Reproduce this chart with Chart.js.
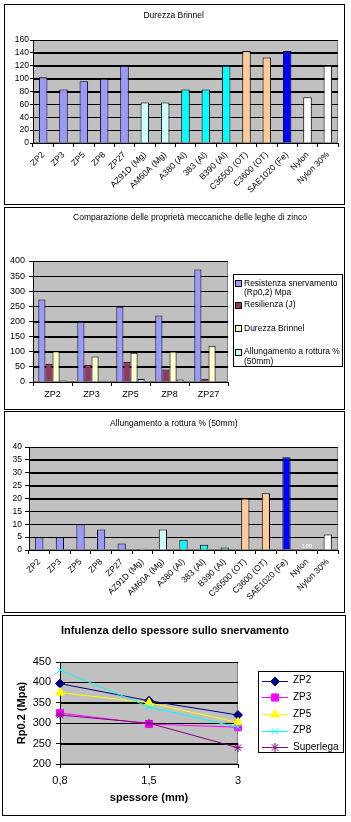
<!DOCTYPE html>
<html><head><meta charset="utf-8">
<script src="https://cdn.jsdelivr.net/npm/chart.js@4.4.0/dist/chart.umd.min.js"></script>
<style>
html,body{margin:0;padding:0;background:#fff;}
body{width:351px;height:822px;position:relative;overflow:hidden;}
.panel{position:absolute;box-sizing:border-box;border:1px solid #000;background:#fff;}
.panel canvas{display:block;}
</style></head><body>
<div class="panel" style="left:4px;top:4px;width:341px;height:201px"><canvas id="c1" width="339" height="199" style="width:339px;height:199px"></canvas></div>
<div class="panel" style="left:4px;top:207px;width:341px;height:203px"><canvas id="c2" width="339" height="201" style="width:339px;height:201px"></canvas></div>
<div class="panel" style="left:4px;top:411px;width:341px;height:202px"><canvas id="c3" width="339" height="200" style="width:339px;height:200px"></canvas></div>
<div class="panel" style="left:2px;top:615px;width:344px;height:201px"><canvas id="c4" width="342" height="199" style="width:342px;height:199px"></canvas></div>
<script>
// ---------- DATA ----------
const materials = ['ZP2','ZP3','ZP5','ZP8','ZP27','AZ91D (Mg)','AM60A (Mg)','A380 (Al)','383 (Al)','B390 (Al)','C36500 (OT)','C3600 (OT)','SAE1020 (Fe)','Nylon','Nylon 30%'];
const durezzaBrinnel = [102,83,96,100,120,63,63,83,83,120,143,133,143,71,120];
const allungamento = [5,5,10,8,2.5,0.5,8,4,2,1,20,22,36,null,6];
const allungamentoNotes = [null,null,null,null,null,null,null,null,null,null,null,null,null,'100',null];

const zincAlloys = ['ZP2','ZP3','ZP5','ZP8','ZP27'];
const resistenzaSnervamento = [273,199,249,220,372];
const resilienza = [60,57,67,41,11];
const durezzaZinco = [102,84,97,101,120];
const allungamentoZinco = [5,4,10,8,null];
const legendLabelsZinco = [['Resistenza snervamento','(Rp0,2) Mpa'],['Resilienza (J)'],['Durezza Brinnel'],['Allungamento a rottura %','(50mm)']];

const spessori = ['0,8','1,5','3'];
const rpZP2 = [397,355,320];
const rpZP3 = [325,298,290];
const rpZP5 = [375,350,302];
const rpZP8 = [430,340,290];
const rpSuperlega = [320,300,240];

const titles = ['Durezza Brinnel','Comparazione delle proprietà meccaniche delle leghe di zinco','Allungamento a rottura % (50mm)','Infulenza dello spessore sullo snervamento'];

// ---------- STYLE ----------
const materialColors = ['#9999FF','#9999FF','#9999FF','#9999FF','#9999FF','#CCFFFF','#CCFFFF','#00FFFF','#00FFFF','#00FFFF','#FFCC99','#FFCC99','#0000FF','#FFFFFF','#FFFFFF'];
const FONT = "'Liberation Sans', Arial, sans-serif";
Chart.defaults.font.family = FONT;
Chart.defaults.color = '#000';
Chart.defaults.animation = false;
Chart.defaults.responsive = false;
Chart.defaults.devicePixelRatio = 1;
Chart.defaults.plugins.legend.display = false;
Chart.defaults.plugins.tooltip.enabled = false;

const decorCfg = {
  c1:{title:{x:168.7,y:11,font:'8.5px '+FONT}},
  c2:{title:{x:185,y:9.5,font:'8.5px '+FONT},
      legend:{type:'box',box:[228,66,338,159],font:'8.5px '+FONT,ys:[75.3,97,120.3,143.7],lh:9.5,swX:230,sw:6,textX:239}},
  c3:{title:{x:168.8,y:11.3,font:'8.5px '+FONT},notes:allungamentoNotes},
  c4:{title:{x:172,y:15,font:'bold 11px '+FONT},
      legend:{type:'line',box:[255,55,341,137],font:'10px '+FONT,y0:64.7,step:16.6,lx0:259,lx1:285,textX:290}}
};

const decor = {
  id:'decor',
  beforeDraw(chart){
    const a = chart.chartArea, ctx = chart.ctx;
    ctx.save();
    ctx.fillStyle = '#C0C0C0';
    ctx.fillRect(a.left, a.top, a.right-a.left, a.bottom-a.top);
    ctx.strokeStyle = '#808080'; ctx.lineWidth = 1;
    ctx.strokeRect(Math.round(a.left)+0.5, Math.round(a.top)+0.5, Math.round(a.right-a.left)-1, Math.round(a.bottom-a.top)-1);
    ctx.restore();
  },
  beforeDatasetsDraw(chart){
    const a = chart.chartArea, ctx = chart.ctx, ys = chart.scales.y;
    ctx.save();
    ctx.strokeStyle = '#000'; ctx.lineWidth = 1;
    ys.ticks.forEach(t=>{
      const y = Math.round(ys.getPixelForValue(t.value)) + 0.5;
      ctx.beginPath(); ctx.moveTo(a.left, y); ctx.lineTo(a.right, y); ctx.stroke();
    });
    ctx.restore();
  },
  afterDraw(chart){
    const cfg = decorCfg[chart.canvas.id]; if(!cfg) return;
    const ctx = chart.ctx;
    ctx.save();
    ctx.fillStyle = '#000';
    ctx.textAlign = 'center'; ctx.textBaseline = 'middle';
    ctx.font = cfg.title.font;
    ctx.fillText(titles[['c1','c2','c3','c4'].indexOf(chart.canvas.id)], cfg.title.x, cfg.title.y);
    if (cfg.notes){
      const xs = chart.scales.x, ys = chart.scales.y;
      ctx.font = '6px '+FONT; ctx.fillStyle = '#FFFFFF';
      cfg.notes.forEach((n,i)=>{ if(n) ctx.fillText(n, xs.getPixelForValue(i), ys.getPixelForValue(1.3)); });
    }
    const L = cfg.legend;
    if (L){
      const b = L.box;
      ctx.fillStyle = '#FFFFFF';
      ctx.fillRect(b[0],b[1],b[2]-b[0],b[3]-b[1]);
      ctx.strokeStyle = '#000'; ctx.lineWidth = 1;
      ctx.strokeRect(b[0]+0.5,b[1]+0.5,b[2]-b[0]-1,b[3]-b[1]-1);
      ctx.font = L.font; ctx.textAlign = 'left'; ctx.textBaseline = 'middle';
      chart.data.datasets.forEach((ds,i)=>{
        if (L.type==='box'){
          const y = L.ys[i];
          ctx.fillStyle = ds.backgroundColor;
          ctx.fillRect(L.swX+0.5, Math.round(y-L.sw/2)+0.5, L.sw, L.sw);
          ctx.strokeStyle = '#000';
          ctx.strokeRect(L.swX+0.5, Math.round(y-L.sw/2)+0.5, L.sw, L.sw);
          ctx.fillStyle = '#000';
          legendLabelsZinco[i].forEach((t,k)=>ctx.fillText(t, L.textX, y + k*L.lh));
        } else {
          const y = L.y0 + i*L.step;
          ctx.strokeStyle = ds.borderColor; ctx.lineWidth = 1;
          ctx.beginPath(); ctx.moveTo(L.lx0, Math.round(y)+0.5); ctx.lineTo(L.lx1, Math.round(y)+0.5); ctx.stroke();
          ctx.fillStyle = ds.backgroundColor; ctx.strokeStyle = ds.borderColor;
          Chart.helpers.drawPoint(ctx, {pointStyle:ds.pointStyle, radius:ds.pointRadius, rotation:0, borderWidth:1}, (L.lx0+L.lx1)/2, Math.round(y)+0.5);
          ctx.fillStyle = '#000';
          ctx.fillText(ds.label, L.textX, y);
        }
      });
    }
    ctx.restore();
  }
};

function yScale(min,max,step,size,width,tickLen,pad,title){
  return {
    min:min, max:max,
    border:{display:true,color:'#000',width:1},
    grid:{color:'#000',lineWidth:1,drawTicks:true,tickLength:tickLen,tickColor:'#000'},
    ticks:{stepSize:step,autoSkip:false,font:{size:size},color:'#000',padding:pad},
    title: title || {display:false},
    afterFit(s){ s.width = width; }
  };
}
function xScale(size,height,rot,tickLen,pad,offset,title){
  return {
    type:'category', offset:offset,
    border:{display:true,color:'#000',width:1},
    grid:{display:true,drawOnChartArea:false,drawTicks:true,tickLength:tickLen,color:'#000',tickColor:'#000',offset:offset},
    ticks:{autoSkip:false,maxRotation:rot,minRotation:rot,font:{size:size},color:'#000',padding:pad},
    title: title || {display:false},
    afterFit(s){ s.height = height; }
  };
}

// ---------- CHART 1 ----------
new Chart(document.getElementById('c1'), {
  type:'bar',
  data:{labels:materials, datasets:[{label:'Durezza Brinnel', data:durezzaBrinnel, backgroundColor:materialColors, borderColor:'#000', borderWidth:1, barPercentage:0.42, categoryPercentage:1}]},
  options:{
    layout:{padding:{left:0,top:35,right:6,bottom:0}},
    scales:{ x:xScale(8.5,61,45,4,3,true), y:yScale(0,160,20,8.5,28,3,1) }
  },
  plugins:[decor]
});

// ---------- CHART 2 ----------
new Chart(document.getElementById('c2'), {
  type:'bar',
  data:{labels:zincAlloys, datasets:[
    {label:'Resistenza snervamento (Rp0,2) Mpa', data:resistenzaSnervamento, backgroundColor:'#9999FF'},
    {label:'Resilienza (J)', data:resilienza, backgroundColor:'#993366'},
    {label:'Durezza Brinnel', data:durezzaZinco, backgroundColor:'#FFFFCC'},
    {label:'Allungamento a rottura % (50mm)', data:allungamentoZinco, backgroundColor:'#CCFFFF'}
  ].map(d=>Object.assign(d,{borderColor:'#000',borderWidth:1,barPercentage:1,categoryPercentage:0.727}))},
  options:{
    layout:{padding:{left:0,top:53,right:116,bottom:0}},
    scales:{ x:xScale(9,27,0,4,3,true), y:yScale(0,400,50,9,28,4,4) }
  },
  plugins:[decor]
});

// ---------- CHART 3 ----------
new Chart(document.getElementById('c3'), {
  type:'bar',
  data:{labels:materials, datasets:[{label:'Allungamento a rottura % (50mm)', data:allungamento, backgroundColor:materialColors, borderColor:'#000', borderWidth:1, barPercentage:0.4, categoryPercentage:1}]},
  options:{
    layout:{padding:{left:0,top:35,right:6,bottom:0}},
    scales:{ x:xScale(8.5,62,45,4,3,true), y:yScale(0,40,5,8.5,24,4,3) }
  },
  plugins:[decor]
});

// ---------- CHART 4 ----------
const lineSeries = [
  {label:'ZP2', data:rpZP2, color:'#000080', style:'rectRot', r:4.5},
  {label:'ZP3', data:rpZP3, color:'#FF00FF', style:'rect', r:5},
  {label:'ZP5', data:rpZP5, color:'#FFFF00', style:'triangle', r:5},
  {label:'ZP8', data:rpZP8, color:'#00FFFF', style:'crossRot', r:4.5},
  {label:'Superlega', data:rpSuperlega, color:'#800080', style:'star', r:4.5}
];
new Chart(document.getElementById('c4'), {
  type:'line',
  data:{labels:spessori, datasets:lineSeries.map((s,i)=>({
    label:s.label, data:s.data, borderColor:s.color, backgroundColor:s.color,
    borderWidth:1, tension:0, pointStyle:s.style, pointRadius:s.r, pointBorderWidth:1,
    pointBackgroundColor:s.color, pointBorderColor:s.color, clip:false, order:-i
  }))},
  options:{
    layout:{padding:{left:0,top:46,right:107,bottom:0}},
    scales:{
      x:xScale(11,51,0,4,6,false,{display:true,text:'spessore (mm)',font:{size:11,weight:'bold'},color:'#000',padding:{top:0,bottom:10}}),
      y:yScale(200,450,50,11,57,4,5,{display:true,text:'Rp0.2 (Mpa)',font:{size:11,weight:'bold'},color:'#000',padding:{top:12,bottom:0}})
    }
  },
  plugins:[decor]
});
</script>
</body></html>
